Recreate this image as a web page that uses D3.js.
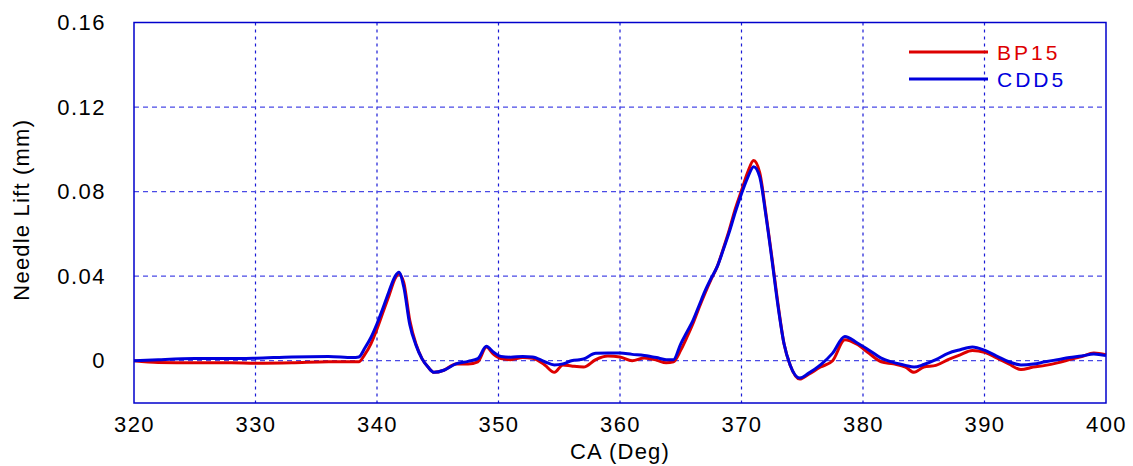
<!DOCTYPE html>
<html>
<head>
<meta charset="utf-8">
<script src="https://d3js.org/d3.v7.min.js"></script>
<style>
  body { margin: 0; background: #fff; }
  text { font-family: "Liberation Sans", Arial, sans-serif; }
</style>
</head>
<body>
<div id="holder"></div>
<script>
  // Data
  const angles = [320, 322, 325, 328, 330, 333, 336, 338, 338.5, 339, 339.5, 340, 340.5, 341, 341.5, 341.8,
    342.2, 342.7, 343.2, 343.7, 344.2, 344.7, 345.5, 346.5, 347.5, 348.3, 349, 349.6, 350.2, 351, 352, 352.8,
    353.8, 354.6, 355.3, 356, 357, 358, 359, 360, 361, 362, 363, 363.8, 364.4, 365, 365.5, 366, 366.5, 367,
    367.5, 368, 368.5, 369, 369.5, 370, 370.5, 371, 371.5, 372, 372.5, 373, 373.5, 374, 374.8, 375.5, 376.5,
    377.5, 378.5, 379.5, 380.5, 381.5, 382.5, 383.5, 384.2, 385, 386, 387, 388, 389, 390, 391, 392, 393, 394,
    395, 396, 397, 398, 399, 400];

  const bp15 = [0, -0.0008, -0.001, -0.001, -0.0012, -0.001, -0.0005, -0.0005, -0.0005, 0.003, 0.008, 0.015,
    0.023, 0.031, 0.039, 0.041, 0.037, 0.019, 0.008, 0.001, -0.003, -0.0055, -0.0045, -0.0015, -0.0015, -0.0005,
    0.0065, 0.003, 0.001, 0.0005, 0.0015, 0.0012, -0.002, -0.0055, -0.002, -0.0025, -0.003, 0.0005, 0.0022,
    0.0018, 0, 0.0013, 0.0003, -0.001, -0.0005, 0.005, 0.011, 0.0175, 0.025, 0.032, 0.0385, 0.0445, 0.053,
    0.062, 0.072, 0.0805, 0.089, 0.0947, 0.089, 0.070, 0.049, 0.027, 0.008, -0.002, -0.0087, -0.0065, -0.003,
    0.0, 0.0099, 0.0078, 0.0035, -0.0005, -0.0015, -0.003, -0.0055, -0.003, -0.0022, 0.0005, 0.0028, 0.0048,
    0.004, 0.0013, -0.0015, -0.0042, -0.003, -0.0022, -0.001, 0.0005, 0.002, 0.0036, 0.0028];

  const cdd5 = [0, 0.0005, 0.001, 0.001, 0.0012, 0.0018, 0.002, 0.0015, 0.0018, 0.006, 0.011, 0.0175, 0.025,
    0.033, 0.040, 0.0418, 0.035, 0.017, 0.0075, 0.001, -0.003, -0.0055, -0.0045, -0.0015, -0.0003, 0.001,
    0.0068, 0.004, 0.002, 0.0017, 0.002, 0.0018, -0.0005, -0.002, -0.0015, 0, 0.0008, 0.0035, 0.0036, 0.0036,
    0.003, 0.0025, 0.0015, 0.0005, 0.0005, 0.008, 0.0135, 0.019, 0.026, 0.033, 0.039, 0.0445, 0.0525, 0.061,
    0.0705, 0.079, 0.0865, 0.0918, 0.087, 0.069, 0.048, 0.026, 0.008, -0.002, -0.0082, -0.006, -0.002, 0.0036,
    0.0115, 0.0085, 0.005, 0.0012, -0.0008, -0.0022, -0.003, -0.0018, 0.0005, 0.0035, 0.0052, 0.0065, 0.005,
    0.0022, -0.0005, -0.002, -0.0016, -0.0005, 0.0005, 0.0015, 0.0022, 0.0032, 0.0024];

  const xTicks = [320, 330, 340, 350, 360, 370, 380, 390, 400];
  const yTicks = [0, 0.04, 0.08, 0.12, 0.16];
  const seriesNames = ['BP15', 'CDD5'];
  const seriesColors = ['#dd0000', '#0000dd'];

  const w = 1133, h = 466;
  const padL = 134, padR = 1106, padT = 22.5, padB = 403;

  const x = d3.scaleLinear().domain([320, 400]).range([padL, padR]);
  const y = d3.scaleLinear().domain([-0.02, 0.16]).range([padB, padT]);

  const svg = d3.select('#holder').append('svg').attr('width', w).attr('height', h);

  // grid
  svg.append('g')
    .selectAll('line')
    .data(xTicks.slice(1, -1))
    .join('line')
    .attr('x1', d => x(d)).attr('x2', d => x(d))
    .attr('y1', padT).attr('y2', padB)
    .attr('stroke', '#1a1ad6').attr('stroke-width', 1.2)
    .attr('stroke-dasharray', '3,4');

  svg.append('g')
    .selectAll('line')
    .data(yTicks.slice(0, -1))
    .join('line')
    .attr('x1', padL).attr('x2', padR)
    .attr('y1', d => y(d)).attr('y2', d => y(d))
    .attr('stroke', '#4a4ae6').attr('stroke-width', 1.2)
    .attr('stroke-dasharray', '5,4');

  // axes (labels only, frame drawn separately)
  const xAxis = d3.axisBottom(x).tickValues(xTicks).tickSize(0).tickPadding(13).tickFormat(d3.format('d'));
  svg.append('g').attr('transform', `translate(0,${padB})`).call(xAxis)
    .call(g => g.select('.domain').remove())
    .selectAll('text').attr('font-size', 22).attr('letter-spacing', 1.5).attr('fill', '#000')
    .style('font-family', '"Liberation Sans", Arial, sans-serif');

  const yAxis = d3.axisLeft(y).tickValues(yTicks).tickSize(0).tickPadding(28)
    .tickFormat(d => d === 0 ? '0' : d3.format('.2f')(d));
  svg.append('g').attr('transform', `translate(${padL},0)`).call(yAxis)
    .call(g => g.select('.domain').remove())
    .selectAll('text').attr('font-size', 22).attr('letter-spacing', 1.5).attr('fill', '#000')
    .style('font-family', '"Liberation Sans", Arial, sans-serif');

  // lines
  const pts = vals => angles.map((a, i) => [a, vals[i]]);
  const line = d3.line().x(d => x(d[0])).y(d => y(d[1])).curve(d3.curveMonotoneX);

  [bp15, cdd5].forEach((vals, i) => {
    svg.append('path')
      .attr('d', line(pts(vals)))
      .attr('fill', 'none')
      .attr('stroke', seriesColors[i])
      .attr('stroke-width', 3)
      .attr('stroke-linejoin', 'round');
  });

  // frame
  svg.append('rect')
    .attr('x', padL).attr('y', padT)
    .attr('width', padR - padL).attr('height', padB - padT)
    .attr('fill', 'none').attr('stroke', '#0000cc').attr('stroke-width', 1.5);

  // legend
  seriesNames.forEach((name, i) => {
    const ly = 52 + i * 27;
    svg.append('line')
      .attr('x1', 909).attr('x2', 988).attr('y1', ly).attr('y2', ly)
      .attr('stroke', seriesColors[i]).attr('stroke-width', 3);
    svg.append('text')
      .attr('x', 997).attr('y', ly + 8)
      .attr('font-size', 21).attr('letter-spacing', 3)
      .attr('fill', seriesColors[i])
      .text(name);
  });

  // axis titles
  svg.append('text')
    .attr('x', (padL + padR) / 2).attr('y', 459)
    .attr('text-anchor', 'middle').attr('font-size', 22).attr('letter-spacing', 1.2)
    .text('CA (Deg)');

  svg.append('text')
    .attr('transform', `translate(29,${(padT + padB) / 2 - 3}) rotate(-90)`)
    .attr('text-anchor', 'middle').attr('font-size', 22).attr('letter-spacing', 1.2)
    .text('Needle Lift (mm)');
</script>
</body>
</html>
